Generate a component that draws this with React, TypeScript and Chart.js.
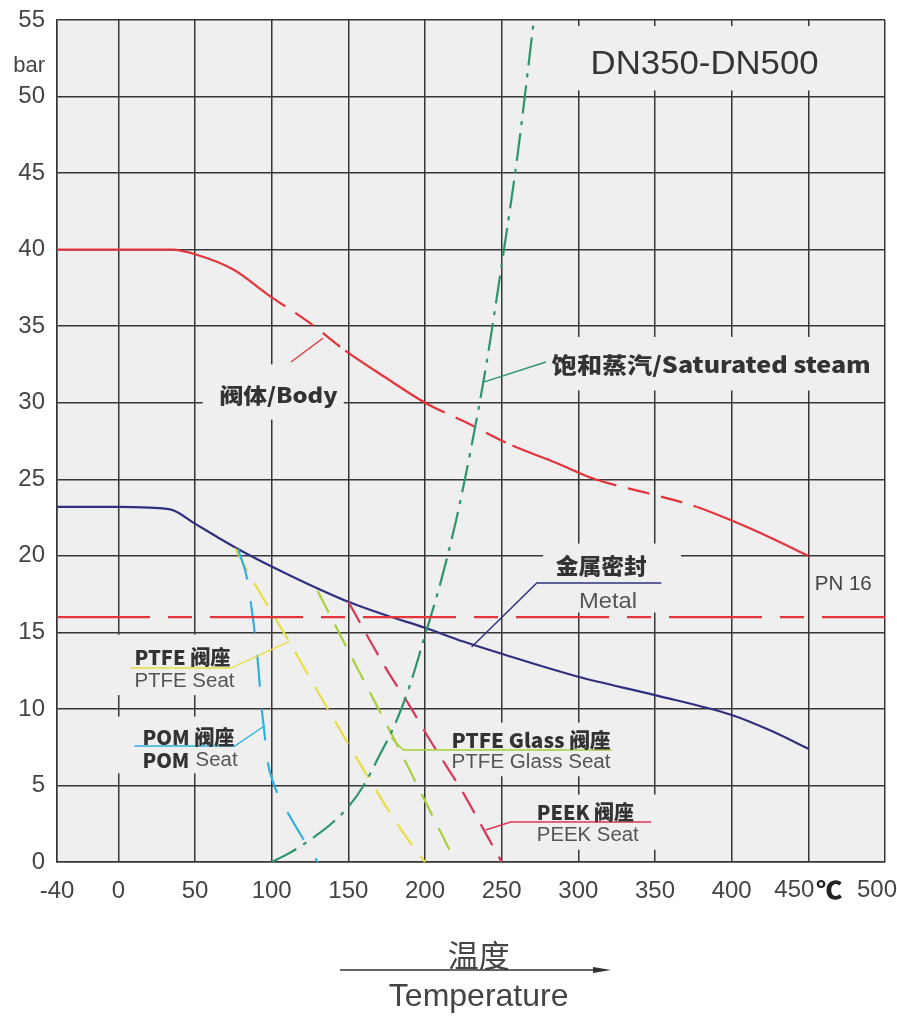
import React, { useEffect, useRef } from 'react';
import { Chart, registerables } from 'chart.js';

Chart.register(...registerables);

// ---------- data ----------
const X_TICKS = [-40, 0, 50, 100, 150, 200, 250, 300, 350, 400, 450, 500];
const X_TICK_LABELS = ['-40', '0', '50', '100', '150', '200', '250', '300', '350', '400', '', ''];
const Y_MIN = 0;
const Y_MAX = 55;
const Y_STEP = 5;

const BODY_X = [-40, 0, 35, 50, 75, 97, 125, 148, 175, 200, 225, 257, 285, 311, 345, 377, 400, 425, 450];
const BODY_Y = [40, 40, 40, 39.7, 38.7, 37.1, 35.2, 33.4, 31.6, 30, 28.8, 27.2, 26.1, 25.0, 24.1, 23.2, 22.3, 21.2, 20.0];
const BODY_DASHED = [[97, 148], [200, 257], [311, 377]];

const PN16_X = [-40, 500];
const PN16_Y = [16, 16];

const METAL_X = [-40, 0, 20, 35, 50, 65, 78, 100, 125, 150, 175, 200, 225, 250, 300, 350, 400, 425, 450];
const METAL_Y = [23.2, 23.2, 23.15, 23.0, 22.1, 21.2, 20.45, 19.3, 18.1, 17.0, 16.1, 15.3, 14.4, 13.6, 12.1, 10.9, 9.6, 8.6, 7.4];

const STEAM_X = [100, 110, 120, 130, 140, 150, 160, 170, 180, 190, 200, 210, 220, 230, 240, 250, 260, 271];
const STEAM_Y = [0, 0.5, 1.1, 1.8, 2.6, 3.6, 5.0, 6.9, 8.9, 11.5, 14.8, 18.2, 22.2, 27, 32.5, 39, 45.9, 55];

const PTFE_X = [76, 90, 100, 112, 125, 139, 150, 165, 176, 188, 200];
const PTFE_Y = [20.5, 18.0, 16.3, 14.3, 12.0, 9.6, 7.7, 5.2, 3.4, 1.6, 0];

const GLASS_X = [130, 150, 165, 180, 195, 207, 220];
const GLASS_Y = [17.7, 13.8, 10.9, 8.0, 5.0, 2.6, 0];

const PEEK_X = [150, 165, 176, 190, 203, 215, 225, 235, 250];
const PEEK_Y = [17, 14.3, 12.4, 10.2, 8.0, 6.1, 4.5, 2.7, 0];

const POM_X = [78, 84, 87, 89.5, 91.5, 93, 95, 97.5, 101, 105, 110, 120, 130];
const POM_Y = [20.45, 18.5, 16.5, 14.5, 12.5, 10.5, 8.7, 6.5, 5.2, 4.2, 3.3, 1.6, 0];

// ---------- styles ----------
const PLOT_BG = '#efefef';
const GRID = '#363636';
const RED = '#e3343c';
const NAVY = '#30307f';
const GREEN = '#2e956a';
const YELLOW = '#e9df45';
const YGREEN = '#a7cf3e';
const CYAN = '#2fb0e0';
const CRIMSON = '#d8385a';
const SANS = '"Liberation Sans", Arial, sans-serif';
const CJK = '"Noto Sans CJK SC", "Noto Sans", sans-serif';

const VERT_GAPS = [
  { xs: [300, 350, 400, 450], y0: 50.4, y1: 54.6 },
  { xs: [300, 350, 400, 450], y0: 30.8, y1: 34.3 },
  { xs: [100], y0: 28.9, y1: 32.5 },
  { xs: [300, 350], y0: 16.3, y1: 20.8 },
  { xs: [250, 300], y0: 5.6, y1: 9.1 },
  { xs: [300, 350], y0: 0.8, y1: 4.4 },
  { xs: [0, 50], y0: 10.9, y1: 14.85 },
  { xs: [0, 50], y0: 5.8, y1: 9.5 },
];
const HORIZ_GAPS = [
  { y: 30, x0: 55, x1: 147 },
  { y: 20, x0: 277, x1: 367 },
];

type Lbl = { text: string; x: number; y: number; w: number; size: number; bold: boolean; color: string; family: string };
const LABELS: Lbl[] = [
  { text: 'DN350-DN500', x: 308, y: 52.06, w: 228, size: 33, bold: false, color: '#353535', family: SANS },
  { text: '阀体/Body', x: 66, y: 30.5, w: 118, size: 21, bold: true, color: '#333', family: CJK },
  { text: '饱和蒸汽/Saturated steam', x: 282.7, y: 32.46, w: 319, size: 22, bold: true, color: '#333', family: CJK },
  { text: '金属密封', x: 285.3, y: 19.34, w: 91, size: 22, bold: true, color: '#333', family: CJK },
  { text: 'Metal', x: 300.4, y: 16.98, w: 58, size: 22, bold: false, color: '#555', family: SANS },
  { text: 'PN 16', x: 454.2, y: 18.16, w: 57, size: 20, bold: false, color: '#444', family: SANS },
  { text: 'PTFE 阀座', x: 10.5, y: 13.39, w: 96, size: 20, bold: true, color: '#333', family: CJK },
  { text: 'PTFE Seat', x: 10.5, y: 11.82, w: 100, size: 20, bold: false, color: '#555', family: SANS },
  { text: 'POM 阀座', x: 15.7, y: 8.16, w: 92, size: 20, bold: true, color: '#333', family: CJK },
  { text: 'POM', x: 15.7, y: 6.66, w: 47, size: 20, bold: true, color: '#333', family: CJK },
  { text: 'Seat', x: 50.4, y: 6.66, w: 42, size: 20, bold: false, color: '#555', family: SANS },
  { text: 'PTFE Glass 阀座', x: 217.3, y: 7.97, w: 159, size: 20, bold: true, color: '#333', family: CJK },
  { text: 'PTFE Glass Seat', x: 217.3, y: 6.53, w: 159, size: 20, bold: false, color: '#555', family: SANS },
  { text: 'PEEK 阀座', x: 272.9, y: 3.27, w: 97, size: 20, bold: true, color: '#333', family: CJK },
  { text: 'PEEK Seat', x: 272.9, y: 1.76, w: 102, size: 20, bold: false, color: '#555', family: SANS },
];

const LEADERS = [
  { color: RED, pts: [[112.6, 32.66], [133.6, 34.23]] },
  { color: GREEN, pts: [[238.2, 31.35], [278.8, 32.66]] },
  { color: NAVY, pts: [[230.4, 14.04], [272.9, 18.22], [354.1, 18.22]] },
  { color: YELLOW, pts: [[7.9, 12.67], [73.3, 12.67], [112, 14.43]] },
  { color: CYAN, pts: [[10.5, 7.58], [75.9, 7.58], [94.2, 8.82]] },
  { color: YGREEN, pts: [[178, 8.1], [185.9, 7.32], [321.5, 7.32]] },
  { color: CRIMSON, pts: [[239.5, 2.09], [255.9, 2.61], [347.5, 2.61]] },
];

const toPts = (xs: number[], ys: number[]) => xs.map((x, i) => ({ x, y: ys[i] }));
const inRanges = (ranges: number[][], a: number, b: number) =>
  ranges.some(([r0, r1]) => a >= r0 - 0.01 && b <= r1 + 0.01);

function drawFit(ctx: CanvasRenderingContext2D, text: string, x: number, cy: number, w: number, font: string, color: string) {
  ctx.save();
  ctx.font = font;
  ctx.fillStyle = color;
  ctx.textBaseline = 'middle';
  ctx.textAlign = 'left';
  const m = ctx.measureText(text).width || 1;
  ctx.translate(x, cy);
  ctx.scale(w / m, 1);
  ctx.fillText(text, 0, 0);
  ctx.restore();
}

const decorPlugin = {
  id: 'decor',
  beforeDraw(chart: any) {
    const { ctx, chartArea: a } = chart;
    ctx.save();
    ctx.fillStyle = '#ffffff';
    ctx.fillRect(0, 0, chart.width, chart.height);
    ctx.fillStyle = PLOT_BG;
    ctx.fillRect(a.left, a.top, a.right - a.left, a.bottom - a.top);
    ctx.restore();
  },
  beforeDatasetsDraw(chart: any) {
    const { ctx } = chart;
    const xs = chart.scales.x;
    const ys = chart.scales.y;
    ctx.save();
    ctx.fillStyle = PLOT_BG;
    VERT_GAPS.forEach((g) => {
      const top = ys.getPixelForValue(g.y1);
      const bot = ys.getPixelForValue(g.y0);
      g.xs.forEach((xv) => {
        const px = xs.getPixelForValue(xv);
        ctx.fillRect(px - 3, top, 6, bot - top);
      });
    });
    HORIZ_GAPS.forEach((g) => {
      const py = ys.getPixelForValue(g.y);
      const l = xs.getPixelForValue(g.x0);
      const r = xs.getPixelForValue(g.x1);
      ctx.fillRect(l, py - 3, r - l, 6);
    });
    ctx.restore();
  },
  afterDatasetsDraw(chart: any) {
    const { ctx, chartArea: a } = chart;
    const xs = chart.scales.x;
    const ys = chart.scales.y;
    // leader lines
    ctx.save();
    ctx.lineWidth = 1.4;
    LEADERS.forEach((l) => {
      ctx.strokeStyle = l.color;
      ctx.beginPath();
      l.pts.forEach(([x, y], i) => {
        const px = xs.getPixelForValue(x);
        const py = ys.getPixelForValue(y);
        if (i === 0) ctx.moveTo(px, py);
        else ctx.lineTo(px, py);
      });
      ctx.stroke();
    });
    ctx.restore();
    // labels
    LABELS.forEach((l) => {
      const font = `${l.bold ? 900 : 400} ${l.size}px ${l.family}`;
      drawFit(ctx, l.text, xs.getPixelForValue(l.x), ys.getPixelForValue(l.y), l.w, font, l.color);
    });
    // axis unit "bar"
    ctx.save();
    ctx.font = `400 22px ${SANS}`;
    ctx.fillStyle = '#444';
    ctx.textAlign = 'right';
    ctx.textBaseline = 'middle';
    ctx.fillText('bar', a.left - 12, ys.getPixelForValue(52));
    ctx.restore();
    // x labels 450 ℃ and 500
    const tickCy = a.bottom + 28;
    const p450 = xs.getPixelForValue(450);
    ctx.save();
    ctx.font = `400 24px ${SANS}`;
    ctx.fillStyle = '#444';
    ctx.textBaseline = 'middle';
    ctx.textAlign = 'right';
    ctx.fillText('450', p450 + 6, tickCy);
    ctx.textAlign = 'center';
    ctx.fillText('500', xs.getPixelForValue(500) - 8, tickCy);
    ctx.restore();
    drawFit(ctx, '℃', p450 + 8, tickCy, 26, `900 24px ${CJK}`, '#222');
    // axis title
    const cx = xs.getPixelForValue(235);
    ctx.save();
    ctx.fillStyle = '#444';
    ctx.textAlign = 'center';
    ctx.textBaseline = 'middle';
    ctx.font = `400 31px ${CJK}`;
    ctx.fillText('温度', cx, a.bottom + 93);
    ctx.font = `400 32px ${SANS}`;
    ctx.fillText('Temperature', cx, a.bottom + 135);
    // arrow
    const ax0 = xs.getPixelForValue(144.6);
    const ax1 = xs.getPixelForValue(321.3);
    const ay = a.bottom + 108;
    ctx.strokeStyle = '#333';
    ctx.lineWidth = 1.5;
    ctx.beginPath();
    ctx.moveTo(ax0, ay);
    ctx.lineTo(ax1 - 10, ay);
    ctx.stroke();
    ctx.fillStyle = '#333';
    ctx.beginPath();
    ctx.moveTo(ax1, ay);
    ctx.lineTo(ax1 - 18, ay - 3);
    ctx.lineTo(ax1 - 18, ay + 3);
    ctx.closePath();
    ctx.fill();
    ctx.restore();
  },
};

export default function App() {
  const ref = useRef<HTMLCanvasElement | null>(null);
  useEffect(() => {
    document.body.style.margin = '0';
    if (!ref.current) return;
    const line = (data: any, color: string, extra: any = {}) => ({
      data,
      borderColor: color,
      backgroundColor: color,
      borderWidth: 2.2,
      pointRadius: 0,
      fill: false,
      cubicInterpolationMode: 'monotone',
      ...extra,
    });
    const chart = new Chart(ref.current, {
      type: 'line',
      data: {
        datasets: [
          line(toPts(PN16_X, PN16_Y), RED, { borderDash: [93, 18, 24, 18], cubicInterpolationMode: 'default', tension: 0 }),
          line(toPts(STEAM_X, STEAM_Y), GREEN, { borderDash: [28, 8, 4, 8] }),
          line(toPts(POM_X, POM_Y), CYAN, { borderDash: [32, 22] }),
          line(toPts(PTFE_X, PTFE_Y), YELLOW, { borderDash: [26, 14] }),
          line(toPts(GLASS_X, GLASS_Y), YGREEN, { borderDash: [24, 14] }),
          line(toPts(PEEK_X, PEEK_Y), CRIMSON, { borderDash: [24, 13] }),
          line(toPts(METAL_X, METAL_Y), NAVY, {}),
          line(toPts(BODY_X, BODY_Y), RED, {
            segment: {
              borderDash: (c: any) => (inRanges(BODY_DASHED, c.p0.parsed.x, c.p1.parsed.x) ? [22, 12] : undefined),
            },
          }),
        ] as any,
      },
      options: {
        animation: false,
        responsive: true,
        maintainAspectRatio: false,
        layout: { padding: { top: 20, right: 12, left: 0, bottom: 0 } },
        plugins: { legend: { display: false }, tooltip: { enabled: false } },
        scales: {
          x: {
            type: 'linear',
            min: -40,
            max: 500,
            afterBuildTicks: (s: any) => {
              s.ticks = X_TICKS.map((v) => ({ value: v }));
            },
            afterFit: (s: any) => {
              s.height = 154;
              s.paddingLeft = 0;
              s.paddingRight = 0;
            },
            grid: { color: GRID, lineWidth: 1.5, drawTicks: false },
            border: { display: true, color: GRID, width: 1.5 },
            ticks: {
              autoSkip: false,
              maxRotation: 0,
              padding: 15,
              color: '#444',
              font: { family: SANS, size: 24 },
              callback: (v: any) => {
                const i = X_TICKS.indexOf(Number(v));
                return i >= 0 ? X_TICK_LABELS[i] : '';
              },
            },
          },
          y: {
            type: 'linear',
            min: Y_MIN,
            max: Y_MAX,
            afterFit: (s: any) => {
              s.width = 57;
              s.paddingTop = 0;
              s.paddingBottom = 0;
            },
            grid: { color: GRID, lineWidth: 1.5, drawTicks: false },
            border: { display: true, color: GRID, width: 1.5 },
            ticks: {
              stepSize: Y_STEP,
              autoSkip: false,
              padding: 12,
              color: '#444',
              font: { family: SANS, size: 24 },
            },
          },
        },
      } as any,
      plugins: [decorPlugin],
    });
    return () => chart.destroy();
  }, []);
  return (
    <div style={{ position: 'absolute', left: 0, top: 0, width: 897, height: 1016 }}>
      <canvas ref={ref} />
    </div>
  );
}
